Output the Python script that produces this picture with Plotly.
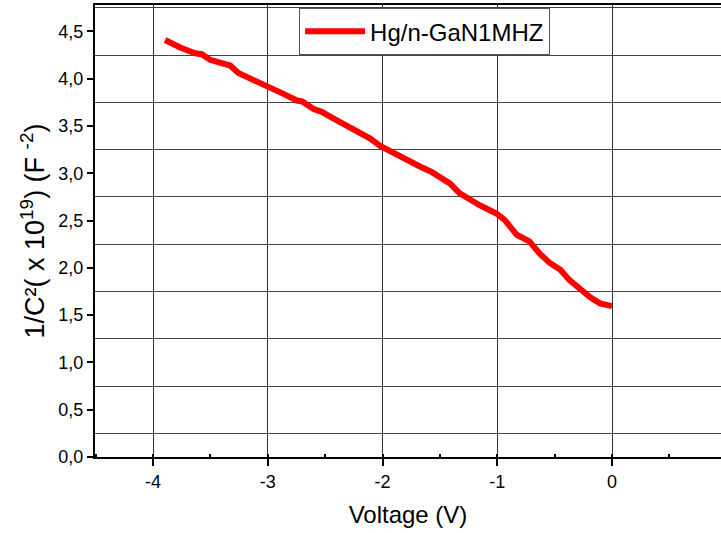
import plotly.graph_objects as go

# Data
voltage = [-3.895, -3.764, -3.633, -3.575, -3.503, -3.415, -3.328, -3.256, -3.183, -3.096,
           -2.95, -2.863, -2.746, -2.70, -2.60, -2.53, -2.43, -2.355, -2.28, -2.21,
           -2.11, -2.02, -1.93, -1.845, -1.76, -1.67, -1.58, -1.50, -1.41, -1.33,
           -1.24, -1.15, -1.065, -1.007, -0.934, -0.876, -0.83, -0.72, -0.63, -0.54,
           -0.45, -0.37, -0.28, -0.19, -0.105, 0.0]
inv_c2 = [4.41, 4.33, 4.27, 4.26, 4.20, 4.17, 4.14, 4.06, 4.02, 3.97,
          3.90, 3.84, 3.77, 3.76, 3.68, 3.65, 3.58, 3.53, 3.48, 3.45,
          3.37, 3.29, 3.23, 3.19, 3.12, 3.07, 3.02, 2.96, 2.89, 2.79,
          2.72, 2.66, 2.61, 2.575, 2.505, 2.42, 2.35, 2.28, 2.15, 2.05,
          1.98, 1.87, 1.77, 1.69, 1.625, 1.596]

x_tickvals = [-4, -3, -2, -1, 0]
x_ticktext = ["-4", "-3", "-2", "-1", "0"]
y_tickvals = [0.0, 0.5, 1.0, 1.5, 2.0, 2.5, 3.0, 3.5, 4.0, 4.5]
y_ticktext = ["0,0", "0,5", "1,0", "1,5", "2,0", "2,5", "3,0", "3,5", "4,0", "4,5"]

series_name = "Hg/n-GaN1MHZ"
FONT = "Arial, Liberation Sans, sans-serif"

fig = go.Figure()
fig.add_trace(go.Scatter(
    x=voltage, y=inv_c2, mode="lines", name=series_name,
    line=dict(color="#ff0000", width=6),
))

fig.update_layout(
    width=721, height=533,
    margin=dict(l=95, r=0, t=5, b=76),
    paper_bgcolor="white", plot_bgcolor="white",
    font=dict(family=FONT, color="black"),
    showlegend=True,
    legend=dict(
        x=0.326, y=0.993, xanchor="left", yanchor="top",
        bgcolor="white", bordercolor="#555555", borderwidth=1,
        font=dict(size=24, family=FONT, color="black"),
        itemwidth=60,
    ),
)

fig.update_xaxes(
    range=[-4.506, 0.95],
    tickvals=x_tickvals, ticktext=x_ticktext,
    ticks="outside", ticklen=7, tickwidth=2, tickcolor="black",
    tickfont=dict(size=18, family=FONT, color="black"),
    showline=True, linecolor="black", linewidth=2, mirror=True,
    showgrid=True, gridcolor="#333333", gridwidth=1,
    zeroline=False,
    minor=dict(dtick=0.5, tick0=-4.5, ticks="inside", ticklen=3, tickcolor="black", showgrid=False),
    title=dict(text="Voltage (V)", font=dict(size=24, family=FONT, color="black"), standoff=16),
)

fig.update_yaxes(
    range=[0, 4.78],
    tickvals=y_tickvals, ticktext=y_ticktext,
    ticks="outside", ticklen=6, tickwidth=2, tickcolor="black",
    tickfont=dict(size=18, family=FONT, color="black"),
    showline=True, linecolor="black", linewidth=2,
    showgrid=False, zeroline=False,
    minor=dict(tick0=0.25, dtick=0.5, showgrid=True, gridcolor="#444444", gridwidth=1, ticks=""),
    title=dict(text="1/C²( x 10<sup>19</sup>) (F <sup>-2</sup>)",
               font=dict(size=27, family=FONT, color="black"), standoff=6),
)

fig.write_html("out.html")
